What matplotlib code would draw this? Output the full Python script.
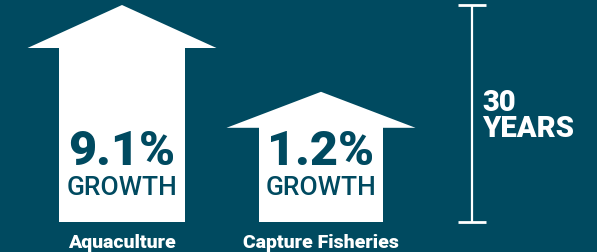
import matplotlib.pyplot as plt
from matplotlib.patches import Polygon

# data
categories = ['Aquaculture', 'Capture Fisheries']
growth = [9.1, 1.2]                 # % growth over the period
arrow_heights = [1.0, 0.60]         # relative to the 30-year bar
period_years = 30

bg = '#004A60'
fg = 'white'
heavy = dict(family=['Roboto', 'Liberation Sans'], fontweight='black')

fig = plt.figure(figsize=(5.97, 2.53), dpi=100, facecolor=bg)
ax = fig.add_axes([0, 0, 1, 1])
ax.set_facecolor(bg)
ax.set_xlim(0, 597)
# baseline at pixel row 223, height 1.0 at pixel row 6
px = 217.0
ax.set_ylim(-(253 - 223) / px, 1 + 6 / px)
ax.axis('off')

centers = [122, 321]
shaft_half = [63, 62]
head_half = 94.5
head_depth = [43 / px, 36 / px]

for i, (cat, g, h) in enumerate(zip(categories, growth, arrow_heights)):
    cx = centers[i]
    sh = shaft_half[i]
    hb = h - head_depth[i]
    pts = [(cx - sh, 0), (cx + sh, 0), (cx + sh, hb), (cx + head_half, hb),
           (cx, h), (cx - head_half, hb), (cx - sh, hb)]
    ax.add_patch(Polygon(pts, closed=True, facecolor=fg, edgecolor='none'))
    ax.text(cx, (223 - 165) / px, f'{g}%', ha='center', va='baseline',
            color=bg, fontsize=35, **heavy)
    ax.text(cx, (223 - 195) / px, 'GROWTH', ha='center', va='baseline',
            color=bg, fontsize=19, family=['Roboto', 'Liberation Sans'],
            fontweight='medium')
    ax.text(cx, (223 - 248) / px, cat, ha='center', va='baseline',
            color=fg, fontsize=14, **heavy)

# 30-year scale bar
bx = 472
ax.plot([bx, bx], [0, 1.0], color=fg, lw=1.6, solid_capstyle='butt')
for yy in (0, 1.0):
    ax.plot([bx - 14, bx + 14], [yy, yy], color=fg, lw=2.0, solid_capstyle='butt')
ax.text(482, (223 - 111) / px, f'{period_years}', ha='left', va='baseline',
        color=fg, fontsize=21, **heavy)
ax.text(482, (223 - 137) / px, 'YEARS', ha='left', va='baseline',
        color=fg, fontsize=21, **heavy)

fig.savefig('out.png', dpi=100, facecolor=bg)
